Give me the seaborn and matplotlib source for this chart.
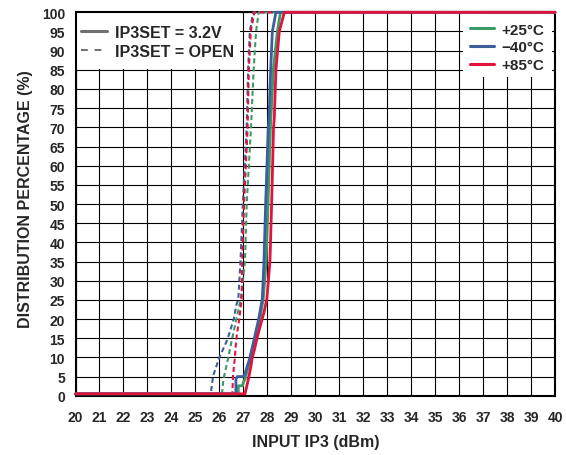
import matplotlib
matplotlib.use('Agg')
import matplotlib.pyplot as plt
from matplotlib.lines import Line2D
from matplotlib.patches import Rectangle
import seaborn as sns

# ── data ───────────────────────────────────────────────────
# IP3SET = 3.2V (solid)
x_m40_32 = [20, 26.69, 26.69, 26.75, 27.0, 27.07, 27.26, 27.46, 27.64, 27.79, 27.86, 27.93, 28.04, 28.07, 28.14, 28.21, 28.36, 40]
y_m40_32 = [0.5, 0.5, 4.3, 5.0, 5.0, 5.8, 9.6, 15, 20, 25.2, 35, 50, 70, 72.3, 85, 95, 100, 100]

x_p25_32 = [20, 26.79, 26.79, 26.97, 27.0, 27.07, 27.29, 27.5, 27.69, 27.83, 27.95, 28.03, 28.13, 28.25, 28.42, 28.55, 40]
y_p25_32 = [0.5, 0.5, 2.6, 2.6, 3.5, 4.3, 9.6, 15, 20, 25.2, 35, 50, 70, 85, 95, 100, 100]

x_p85_32 = [20, 27.07, 27.21, 27.32, 27.36, 27.47, 27.57, 27.71, 27.86, 27.98, 28.11, 28.18, 28.26, 28.29, 28.36, 28.5, 28.71, 40]
y_p85_32 = [0.5, 0.5, 4.3, 7.8, 9.6, 12.2, 15, 18.3, 21.7, 25.2, 35, 50, 70, 72.3, 85, 95, 100, 100]

# IP3SET = OPEN (dashed)
x_m40_op = [20, 25.64, 25.74, 26.0, 26.29, 26.43, 26.6, 26.71, 26.79, 26.88, 26.98, 27.14, 27.2, 27.27, 27.41, 40]
y_m40_op = [0.5, 0.5, 5.2, 10, 14, 16.5, 20, 23.7, 25.2, 35, 50, 70, 85, 95, 100, 100]

x_p25_op = [20, 26.11, 26.17, 26.36, 26.5, 26.71, 26.89, 27.07, 27.14, 27.32, 27.43, 27.53, 27.64, 40]
y_p25_op = [0.5, 0.5, 4.3, 9.6, 13.9, 20, 25.2, 35, 50, 70, 85, 95, 100, 100]

x_p85_op = [20, 26.54, 26.57, 26.64, 26.71, 26.83, 26.93, 26.95, 27.03, 27.18, 27.23, 27.31, 27.46, 40]
y_p85_op = [0.5, 0.5, 5.2, 9.6, 15, 20, 25.2, 35, 50, 70, 85, 95, 100, 100]

x_ticks = list(range(20, 41))
y_ticks = list(range(0, 101, 5))

GREEN = '#3a9a66'
BLUE = '#3d5e9e'
RED = '#e2123c'
GRAY = '#707070'

sns.set_style('white')
plt.rcParams['font.family'] = ['Liberation Sans', 'DejaVu Sans']
plt.rcParams['font.weight'] = 'bold'

fig = plt.figure(figsize=(5.66, 4.56), dpi=100)
ax = fig.add_axes([0.1334, 0.130, 0.8472, 0.8408])

series = [
    (x_m40_op, y_m40_op, BLUE, True),
    (x_p25_op, y_p25_op, GREEN, True),
    (x_p85_op, y_p85_op, RED, True),
    (x_p25_32, y_p25_32, GREEN, False),
    (x_m40_32, y_m40_32, BLUE, False),
    (x_p85_32, y_p85_32, RED, False),
]
for xs, ys, c, dashed in series:
    sns.lineplot(x=xs, y=ys, ax=ax, color=c, sort=False, estimator=None,
                 linewidth=1.5 if dashed else 2.0, legend=False)
    ln = ax.lines[-1]
    if dashed:
        ln.set_dashes((2.4, 1.5))
    ln.set_clip_on(False)
    ln.set_zorder(3)

ax.set_xlim(20, 40)
ax.set_ylim(0, 100)
ax.set_xticks(x_ticks)
ax.set_yticks(y_ticks)
ax.tick_params(axis='x', length=0, labelsize=10, pad=10)
ax.tick_params(axis='y', length=0, labelsize=10, pad=7.5)
for t in ax.get_xticklabels() + ax.get_yticklabels():
    t.set_fontweight('bold')
ax.grid(True, color='black', linewidth=0.8)
ax.set_axisbelow(True)
for s in ax.spines.values():
    s.set_color('black')
    s.set_linewidth(1.5)
    s.set_visible(True)

ax.set_xlabel('INPUT IP3 (dBm)', fontsize=11.5, fontweight='bold')
ax.xaxis.label.set_va('center')
ax.xaxis.set_label_coords(0.5, -0.12)
ax.set_ylabel('DISTRIBUTION PERCENTAGE (%)', fontsize=11.5, fontweight='bold')
ax.yaxis.label.set_va('center')
ax.yaxis.set_label_coords(-0.105, 0.515)

# white boxes behind the legends (hide the grid there)
ax.add_patch(Rectangle((0, 0.852), 0.343, 0.148, transform=ax.transAxes,
                       facecolor='white', edgecolor='none', zorder=1))
ax.add_patch(Rectangle((0.808, 0.831), 0.186, 0.169, transform=ax.transAxes,
                       facecolor='white', edgecolor='none', zorder=1))

# style legend
h1 = [Line2D([], [], color=GRAY, linewidth=2.2),
      Line2D([], [], color=GRAY, linewidth=1.4, dashes=(3.5, 3.5))]
leg1 = ax.legend(h1, ['IP3SET = 3.2V', 'IP3SET = OPEN'], loc='upper left',
                 bbox_to_anchor=(0.0115, 0.968), frameon=False,
                 borderaxespad=0, borderpad=0,
                 handlelength=1.65, handletextpad=0.5, labelspacing=0.25,
                 prop={'size': 11.5, 'weight': 'bold'})
leg1.set_zorder(5)
ax.add_artist(leg1)

# temperature legend
h2 = [Line2D([], [], color=GREEN, linewidth=2.2),
      Line2D([], [], color=BLUE, linewidth=2.2),
      Line2D([], [], color=RED, linewidth=2.2)]
leg2 = ax.legend(h2, ['+25°C', '\u221240°C', '+85°C'], loc='upper right',
                 bbox_to_anchor=(0.977, 0.973), frameon=False,
                 borderaxespad=0, borderpad=0,
                 handlelength=1.6, handletextpad=0.45, labelspacing=0.25,
                 prop={'size': 11, 'weight': 'bold'})
leg2.set_zorder(5)

fig.savefig('out.png', dpi=100)
